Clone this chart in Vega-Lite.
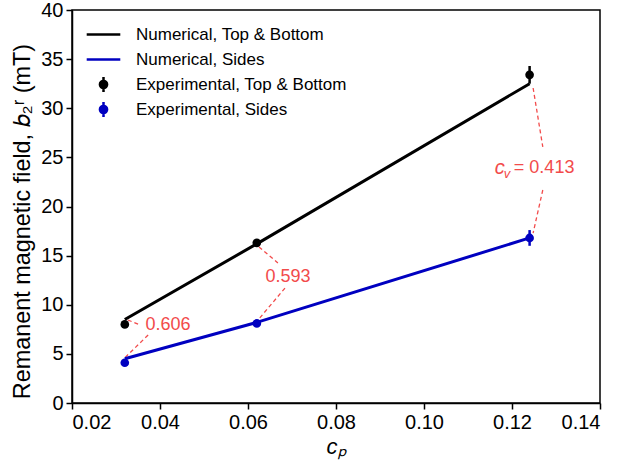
{
  "$schema": "https://vega.github.io/schema/vega-lite/v6.json",
  "width": 528,
  "height": 393,
  "autosize": {"type": "none"},
  "padding": {"left": 72, "top": 10, "right": 21, "bottom": 59},
  "background": "white",
  "config": {
    "font": "Liberation Sans",
    "view": {"stroke": "black", "strokeWidth": 1.5},
    "axis": {
      "domainColor": "black", "domainWidth": 1.5,
      "tickColor": "black", "tickWidth": 1.5, "tickSize": 6,
      "labelFontSize": 20, "labelColor": "black", "labelPadding": 3,
      "titleFontSize": 22, "titleColor": "black", "titleFontWeight": "normal",
      "grid": false
    }
  },
  "datasets": {
    "num": [
      {"series": "Numerical, Top & Bottom", "cp": 0.032, "b": 8.5},
      {"series": "Numerical, Top & Bottom", "cp": 0.062, "b": 16.2},
      {"series": "Numerical, Top & Bottom", "cp": 0.124, "b": 32.5},
      {"series": "Numerical, Sides", "cp": 0.032, "b": 4.5},
      {"series": "Numerical, Sides", "cp": 0.062, "b": 8.2},
      {"series": "Numerical, Sides", "cp": 0.124, "b": 16.8}
    ],
    "exp": [
      {"series": "Experimental, Top & Bottom", "cp": 0.032, "b": 8.0, "lo": 7.7, "hi": 8.3},
      {"series": "Experimental, Top & Bottom", "cp": 0.062, "b": 16.3, "lo": 16.0, "hi": 16.6},
      {"series": "Experimental, Top & Bottom", "cp": 0.124, "b": 33.4, "lo": 32.5, "hi": 34.3},
      {"series": "Experimental, Sides", "cp": 0.032, "b": 4.1, "lo": 3.8, "hi": 4.4},
      {"series": "Experimental, Sides", "cp": 0.062, "b": 8.1, "lo": 7.8, "hi": 8.4},
      {"series": "Experimental, Sides", "cp": 0.124, "b": 16.8, "lo": 16.0, "hi": 17.6}
    ],
    "guides": [
      {"xa": 0.0327, "ya": 8.45, "xb": 0.0355, "yb": 7.94},
      {"xa": 0.0373, "ya": 6.92, "xb": 0.0320, "yb": 4.6},
      {"xa": 0.0625, "ya": 15.88, "xb": 0.0668, "yb": 14.25},
      {"xa": 0.0684, "ya": 11.70, "xb": 0.0620, "yb": 8.3},
      {"xa": 0.1248, "ya": 32.06, "xb": 0.1270, "yb": 26.06},
      {"xa": 0.1270, "ya": 21.68, "xb": 0.1248, "yb": 17.3}
    ],
    "notes": [
      {"x": 0.0418, "y": 7.94, "label": "0.606"},
      {"x": 0.0691, "y": 12.82, "label": "0.593"}
    ]
  },
  "layer": [
    {
      "data": {"name": "guides"},
      "mark": {"type": "rule", "color": "#f24b4b", "strokeWidth": 1.3, "strokeDash": [4, 3]},
      "encoding": {
        "x": {"field": "xa", "type": "quantitative", "scale": {"domain": [0.02, 0.14], "nice": false, "zero": false},
          "axis": {"values": [0.02, 0.04, 0.06, 0.08, 0.1, 0.12, 0.14], "format": ".2f", "title": "cₚ", "titleFontStyle": "italic", "titlePadding": 4}},
        "y": {"field": "ya", "type": "quantitative", "scale": {"domain": [0, 40], "nice": false},
          "axis": {"values": [0, 5, 10, 15, 20, 25, 30, 35, 40], "title": "Remanent magnetic field, 𝑏₂ʳ (mT)", "titleFontSize": 23.4, "titlePadding": 6, "titleY": 211}},
        "x2": {"field": "xb"},
        "y2": {"field": "yb"}
      }
    },
    {
      "data": {"name": "num"},
      "mark": {"type": "line", "strokeWidth": 3},
      "encoding": {
        "x": {"field": "cp", "type": "quantitative"},
        "y": {"field": "b", "type": "quantitative"},
        "color": {"field": "series", "type": "nominal"},
        "detail": {"field": "series"}
      }
    },
    {
      "data": {"name": "exp"},
      "mark": {"type": "rule", "strokeWidth": 2.5},
      "encoding": {
        "x": {"field": "cp", "type": "quantitative"},
        "y": {"field": "lo", "type": "quantitative"},
        "y2": {"field": "hi"},
        "color": {"field": "series", "type": "nominal"}
      }
    },
    {
      "data": {"name": "exp"},
      "mark": {"type": "circle", "size": 75, "opacity": 1},
      "encoding": {
        "x": {"field": "cp", "type": "quantitative"},
        "y": {"field": "b", "type": "quantitative"},
        "color": {"field": "series", "type": "nominal"}
      }
    },
    {
      "data": {"name": "exp"},
      "mark": {"type": "point", "opacity": 0, "filled": true},
      "encoding": {
        "x": {"field": "cp", "type": "quantitative"},
        "y": {"field": "b", "type": "quantitative"},
        "color": {"field": "series", "type": "nominal",
          "scale": {"domain": ["Numerical, Top & Bottom", "Numerical, Sides", "Experimental, Top & Bottom", "Experimental, Sides"],
                    "range": ["black", "#0000c0", "black", "#0000c0"]},
          "legend": {"title": null, "orient": "none", "legendX": 22, "legendY": 15, "padding": 0,
            "labelFontSize": 17, "labelColor": "black", "labelOffset": 23, "labelLimit": 0, "symbolSize": 256, "symbolStrokeWidth": 2.5,
            "rowPadding": -2, "gridAlign": "all", "symbolOpacity": 1,
            "encode": {"symbols": {"update": {"fill": {"scale": "color", "field": "value"}, "stroke": {"scale": "color", "field": "value"}, "opacity": {"value": 1}}}}}},
        "shape": {"field": "series", "type": "nominal",
          "scale": {"domain": ["Numerical, Top & Bottom", "Numerical, Sides", "Experimental, Top & Bottom", "Experimental, Sides"],
                    "range": ["M-2.1,0H2.1", "M-2.1,0H2.1",
                              "M0,-0.95V0.95M0.45,0C0.45,0.2485 0.2485,0.45 0,0.45C-0.2485,0.45 -0.45,0.2485 -0.45,0C-0.45,-0.2485 -0.2485,-0.45 0,-0.45C0.2485,-0.45 0.45,-0.2485 0.45,0Z",
                              "M0,-0.95V0.95M0.45,0C0.45,0.2485 0.2485,0.45 0,0.45C-0.2485,0.45 -0.45,0.2485 -0.45,0C-0.45,-0.2485 -0.2485,-0.45 0,-0.45C0.2485,-0.45 0.45,-0.2485 0.45,0Z"]},
          "legend": {"title": null}}
      }
    },
    {
      "data": {"name": "notes"},
      "mark": {"type": "text", "fontSize": 18, "color": "#f24b4b", "align": "center", "baseline": "middle"},
      "encoding": {
        "x": {"field": "x", "type": "quantitative"},
        "y": {"field": "y", "type": "quantitative"},
        "text": {"field": "label"}
      }
    },
    {
      "data": {"values": [{"x": 0.1161, "y": 23.92, "t": "c"}]},
      "mark": {"type": "text", "fontSize": 20, "fontStyle": "italic", "color": "#f24b4b", "align": "left", "baseline": "middle"},
      "encoding": {
        "x": {"field": "x", "type": "quantitative"},
        "y": {"field": "y", "type": "quantitative"},
        "text": {"field": "t"}
      }
    },
    {
      "data": {"values": [{"x": 0.1161, "y": 23.92, "t": "v"}]},
      "mark": {"type": "text", "fontSize": 13, "fontStyle": "italic", "color": "#f24b4b", "align": "left", "baseline": "middle", "dx": 9, "dy": 6},
      "encoding": {
        "x": {"field": "x", "type": "quantitative"},
        "y": {"field": "y", "type": "quantitative"},
        "text": {"field": "t"}
      }
    },
    {
      "data": {"values": [{"x": 0.1161, "y": 23.92, "t": "= 0.413"}]},
      "mark": {"type": "text", "fontSize": 18, "color": "#f24b4b", "align": "left", "baseline": "middle", "dx": 19},
      "encoding": {
        "x": {"field": "x", "type": "quantitative"},
        "y": {"field": "y", "type": "quantitative"},
        "text": {"field": "t"}
      }
    }
  ]
}
